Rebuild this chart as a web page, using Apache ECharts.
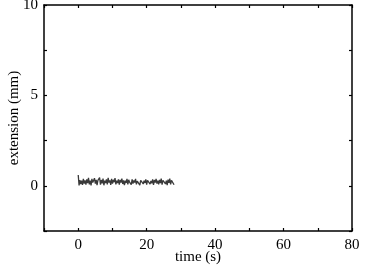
<!DOCTYPE html>
<html><head><meta charset="utf-8">
<script src="https://cdn.jsdelivr.net/npm/echarts@6/dist/echarts.min.js"></script>
<style>html,body{margin:0;padding:0;background:#fff}#c{width:367px;height:270px}</style>
</head><body><div id="c"></div>
<script>
var xLabel = 'time (s)';
var yLabel = 'extension (mm)';
var xTickLabels = [0, 20, 40, 60, 80];
var yTickLabels = [0, 5, 10];
var timeStart = 0, timeStep = 0.25;
var extension = [
0.60,0.02,0.32,0.10,0.28,0.05,0.38,0.12,0.30,0.06,0.36,0.15,0.44,0.08,0.28,0.02,
0.38,0.18,0.08,0.42,0.12,0.33,0.04,0.30,0.20,0.45,0.06,0.32,0.14,0.40,0.03,0.28,
0.15,0.36,0.08,0.44,0.18,0.30,0.05,0.38,0.12,0.33,0.20,0.42,0.08,0.28,0.15,0.36,
0.06,0.33,0.18,0.40,0.10,0.30,0.04,0.28,0.16,0.38,0.08,0.33,0.20,0.28,0.06,0.36,
0.12,0.30,0.18,0.38,0.08,0.26,0.15,0.33,0.04,0.30,0.20,0.38,0.10,0.28,0.16,0.35,
0.07,0.30,0.19,0.40,0.09,0.27,0.14,0.36,0.05,0.32,0.18,0.38,0.12,0.29,0.08,0.33,
0.15,0.40,0.06,0.30,0.19,0.35,0.10,0.28,0.04,0.34,0.16,0.40,0.08,0.30,0.20,0.38,
0.06
];
var data = extension.map(function(v, i){ return [timeStart + i * timeStep, v]; });
var font = 'Liberation Serif';
var chart = echarts.init(document.getElementById('c'));
var axisCommon = {
  axisLine: {show: true, onZero: false, lineStyle: {color: '#000', width: 1.5}},
  axisTick: {show: true, inside: true, length: 3, lineStyle: {color: '#000', width: 1.2}},
  splitLine: {show: false}
};
chart.setOption({
  animation: false,
  grid: [{left: 44, top: 5, right: 15, bottom: 39, containLabel: false, outerBoundsMode: 'none'}],
  xAxis: [
    Object.assign({type: 'value', min: -10, max: 80, interval: 10,
      name: xLabel, nameLocation: 'middle', nameGap: 19, nameMoveOverlap: false,
      nameTextStyle: {fontFamily: font, fontSize: 15, color: '#000'},
      axisLabel: {fontFamily: font, fontSize: 15, color: '#000', margin: 7,
        formatter: function(v){ return xTickLabels.indexOf(v) >= 0 ? String(v) : ''; }}
    }, axisCommon),
    Object.assign({type: 'value', position: 'top', min: -10, max: 80, interval: 10,
      axisLabel: {show: false}}, axisCommon)
  ],
  yAxis: [
    Object.assign({type: 'value', min: -2.5, max: 10, interval: 2.5,
      name: yLabel, nameLocation: 'middle', nameGap: 22, nameMoveOverlap: false,
      nameTextStyle: {fontFamily: font, fontSize: 15, color: '#000'},
      axisLabel: {fontFamily: font, fontSize: 15, color: '#000', margin: 6,
        formatter: function(v){ return yTickLabels.indexOf(v) >= 0 ? String(v) : ''; }}
    }, axisCommon),
    Object.assign({type: 'value', position: 'right', min: -2.5, max: 10, interval: 2.5,
      axisLabel: {show: false}}, axisCommon)
  ],
  series: [{
    type: 'line', data: data, showSymbol: false, symbol: 'none',
    lineStyle: {color: '#3a3a3a', width: 1.3}
  }]
});
</script></body></html>
